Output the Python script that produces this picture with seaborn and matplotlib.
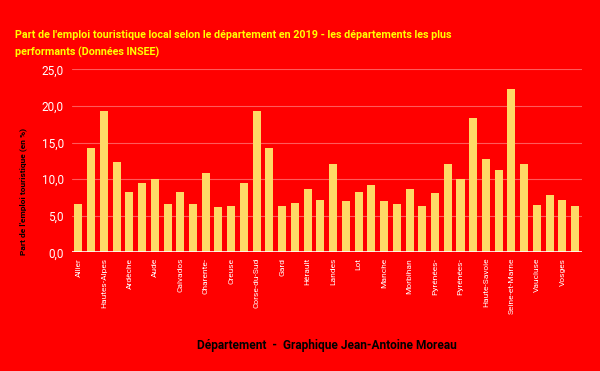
import matplotlib
matplotlib.use("Agg")
import matplotlib.pyplot as plt
import seaborn as sns
import pandas as pd

departements = [
    "Allier", "Alpes-de-Haute-Provence", "Hautes-Alpes", "Alpes-Maritimes", "Ardèche",
    "Ariège", "Aude", "Aveyron", "Calvados", "Cantal",
    "Charente-Maritime", "Corrèze", "Creuse", "Dordogne", "Corse-du-Sud",
    "Haute-Corse", "Gard", "Gers", "Hérault", "Indre",
    "Landes", "Loir-et-Cher", "Lot", "Lozère", "Manche",
    "Meuse", "Morbihan", "Puy-de-Dôme", "Pyrénées-Atlantiques", "Hautes-Pyrénées",
    "Pyrénées-Orientales", "Savoie", "Haute-Savoie", "Paris", "Seine-et-Marne",
    "Var", "Vaucluse", "Vendée", "Vosges", "Yonne",
]
valeurs = [
    6.6, 14.2, 19.3, 12.3, 8.3,
    9.4, 10.0, 6.6, 8.3, 6.6,
    10.9, 6.2, 6.3, 9.4, 19.3,
    14.3, 6.3, 6.7, 8.6, 7.2,
    12.0, 7.0, 8.3, 9.2, 7.0,
    6.6, 8.7, 6.3, 8.1, 12.0,
    10.0, 18.4, 12.7, 11.2, 22.3,
    12.0, 6.4, 7.8, 7.2, 6.3,
]
etiquettes = [
    "Allier", "", "Hautes-Alpes", "", "Ardèche",
    "", "Aude", "", "Calvados", "",
    "Charente-", "", "Creuse", "", "Corse-du-Sud",
    "", "Gard", "", "Hérault", "",
    "Landes", "", "Lot", "", "Manche",
    "", "Morbihan", "", "Pyrénées-", "",
    "Pyrénées-", "", "Haute-Savoie", "", "Seine-et-Marne",
    "", "Vaucluse", "", "Vosges", "",
]
y_ticks = [0, 5, 10, 15, 20, 25]

df = pd.DataFrame({"dep": departements, "val": valeurs})

RED = "#FF0000"
BAR = "#FFD966"

sns.set_theme(style="white")
plt.rcParams["font.family"] = ["Roboto", "DejaVu Sans"]

fig = plt.figure(figsize=(6, 3.71), dpi=100, facecolor=RED)
ax = fig.add_axes([72 / 600, 1 - 252.3 / 371, (581.5 - 72) / 600, (252.3 - 69.3) / 371])
ax.set_facecolor(RED)

sns.barplot(data=df, x="dep", y="val", color=BAR, width=0.63, ax=ax,
            saturation=1, edgecolor="none")

ax.set_ylim(0, 25)
ax.set_xlim(-0.5, len(departements) - 0.5)
ax.set_yticks(y_ticks)
ax.set_yticklabels([f"{v:.1f}".replace(".", ",") for v in y_ticks], color="white", fontsize=8.5)
ax.set_xticks(range(len(departements)))
ax.set_xticklabels(etiquettes, rotation=90, color="white", fontsize=6)
ax.tick_params(axis="both", length=0, pad=4)
ax.tick_params(axis="y", pad=6)
for y in y_ticks[1:]:
    ax.axhline(y, color="#FF5A5A", lw=0.8, zorder=0)
ax.axhline(0, color="white", lw=1.2, zorder=3)
for s in ax.spines.values():
    s.set_visible(False)

ax.set_xlabel("")
ax.set_ylabel("Part de l'emploi touristique (en %)", color="black", fontsize=6,
              fontweight="bold")
ax.yaxis.set_label_coords(-0.088, 0.33)

fig.text(15 / 600, 1 - 35 / 371,
         "Part de l'emploi touristique local selon le département en 2019 - les départements les plus",
         color="#FFFF00", fontsize=7.75, fontweight="bold", va="center", ha="left")
fig.text(15 / 600, 1 - 52 / 371, "performants (Données INSEE)",
         color="#FFFF00", fontsize=7.75, fontweight="bold", va="center", ha="left")
fig.text(327 / 600, 1 - 345 / 371, "Département  -  Graphique Jean-Antoine Moreau",
         color="black", fontsize=8.6, fontweight="bold", va="center", ha="center")

fig.savefig("out.png", dpi=100, facecolor=RED)
